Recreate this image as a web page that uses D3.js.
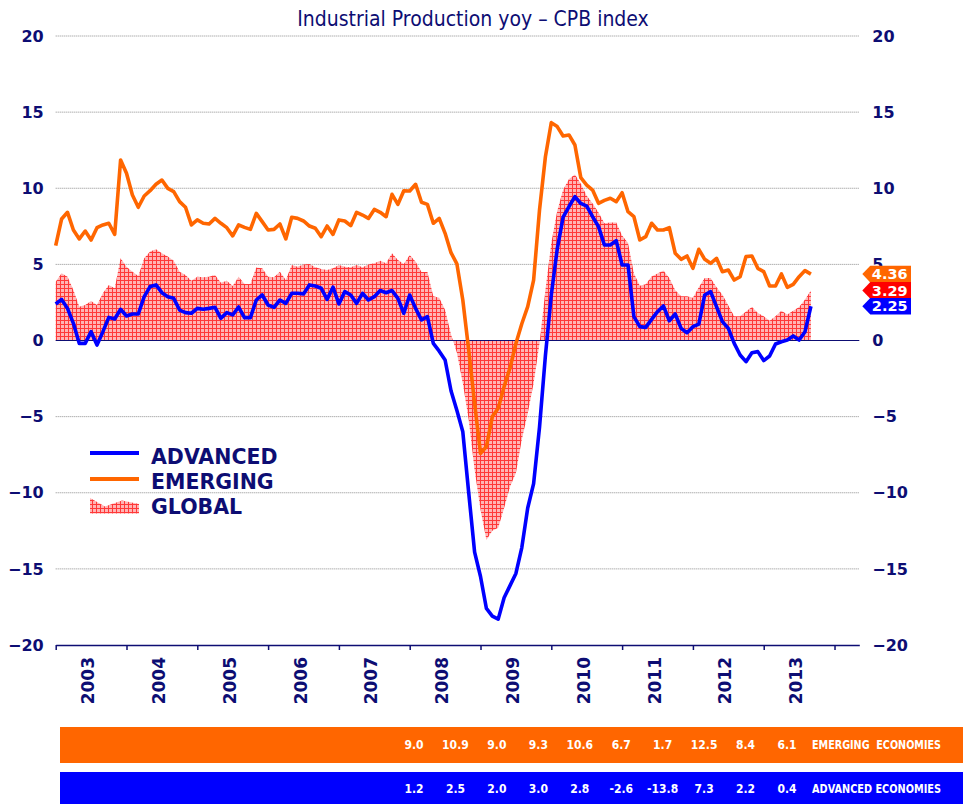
<!DOCTYPE html>
<html><head><meta charset="utf-8">
<script src="https://cdn.jsdelivr.net/npm/d3@7"></script>
<style>body{margin:0;background:#fff;} svg{display:block;}</style>
</head><body>
<svg id="c" width="963" height="804"></svg>
<script>
// ---------- DATA (monthly, Jan 2003 .. Sep 2013) ----------
const years = ["2003","2004","2005","2006","2007","2008","2009","2010","2011","2012","2013"];
const yTicks = [-20,-15,-10,-5,0,5,10,15,20];
const advanced = [
 2.4,2.7,2.11,1.13,-0.19,-0.19,0.58,-0.3,0.58,1.52,
 1.41,2.05,1.61,1.74,1.74,2.88,3.54,3.65,3.14,2.88,
 2.77,2.0,1.83,1.79,2.11,2.05,2.11,2.18,1.46,1.83,
 1.68,2.2,1.5,1.5,2.66,2.99,2.33,2.18,2.66,2.44,
 3.1,3.1,3.06,3.65,3.58,3.43,2.7,3.5,2.4,3.21,
 2.99,2.44,3.1,2.66,2.88,3.28,3.14,3.28,2.77,1.79,
 2.99,2.11,1.35,1.57,-0.19,-0.7,-1.28,-3.3,-4.6,-6.0,
 -10.0,-13.9,-15.5,-17.6,-18.1,-18.3,-16.9,-16.1,-15.3,-13.6,
 -11.0,-9.4,-5.7,-1.0,3.0,6.0,8.1,8.8,9.45,9.0,
 8.83,8.13,7.48,6.27,6.27,6.56,4.96,4.96,1.57,0.91,
 0.86,1.39,1.89,2.27,1.3,1.74,0.8,0.51,0.91,1.08,
 2.99,3.21,2.22,1.24,0.8,-0.19,-0.95,-1.39,-0.8,-0.73,
 -1.32,-1.02,-0.23,-0.08,0.03,0.3,0.03,0.58,2.25];
const emerging = [
 6.23,7.98,8.42,7.26,6.67,7.19,6.6,7.41,7.59,7.7,
 6.97,11.86,10.98,9.56,8.75,9.49,9.84,10.26,10.54,9.99,
 9.78,9.12,8.75,7.59,7.92,7.7,7.65,8.02,7.7,7.41,
 6.87,7.59,7.43,7.3,8.35,7.81,7.26,7.3,7.65,6.67,
 8.09,8.02,7.85,7.52,7.37,6.82,7.52,6.97,7.92,7.85,
 7.54,8.42,8.24,8.02,8.61,8.42,8.13,9.6,8.94,9.84,
 9.82,10.26,9.08,8.94,7.7,8.02,7.04,5.77,5.03,2.66,
 -0.62,-4.13,-7.41,-6.97,-5.0,-4.45,-3.03,-1.8,-0.2,1.1,
 2.22,3.97,8.57,12.07,14.31,14.05,13.43,13.5,12.84,10.7,
 10.21,9.88,9.01,9.2,9.34,9.12,9.71,8.46,8.13,6.6,
 6.82,7.7,7.26,7.26,7.41,5.73,5.33,5.55,4.74,5.99,
 5.33,5.07,5.4,4.52,4.63,3.97,4.19,5.51,5.55,4.74,
 4.52,3.58,3.58,4.37,3.49,3.69,4.19,4.59,4.36];
const globalIdx = [
 3.86,4.41,4.19,3.32,2.22,2.33,2.59,2.33,3.1,3.65,
 3.43,5.4,4.85,4.52,4.24,5.4,5.84,5.99,5.73,5.51,
 5.24,4.52,4.3,3.93,4.19,4.15,4.19,4.3,3.8,3.93,
 3.58,4.19,3.71,3.71,4.8,4.74,4.19,4.15,4.52,3.97,
 4.96,4.85,5.0,5.02,4.81,4.7,4.63,4.74,4.96,4.85,
 4.81,4.96,4.81,5.0,5.07,5.24,5.07,5.73,5.29,5.02,
 5.62,5.18,4.5,4.5,2.9,2.8,2.0,0.4,-0.8,-2.8,
 -5.2,-8.5,-11.1,-13.1,-12.5,-12.3,-11.0,-9.6,-8.7,-6.5,
 -4.8,-2.8,-0.2,3.3,6.4,8.5,9.9,10.6,10.9,10.3,
 9.5,9.0,8.4,7.7,7.75,7.75,6.9,6.4,4.4,3.6,
 3.7,4.2,4.4,4.6,4.1,3.3,2.9,2.9,2.8,3.5,
 4.1,4.1,3.5,3.0,2.3,1.6,1.6,1.9,2.2,1.8,
 1.6,1.3,1.6,1.95,1.7,1.95,2.2,2.7,3.29];
const emergingTable = [9.0,10.9,9.0,9.3,10.6,6.7,1.7,12.5,8.4,6.1];
const advancedTable = [1.2,2.5,2.0,3.0,2.8,-2.6,-13.8,7.3,2.2,0.4];
const seriesNames = ["ADVANCED","EMERGING","GLOBAL"];

// ---------- STYLE ----------
const navy = "#0d0d73", blue = "#0000ff", orange = "#ff6600", red = "#ff0000";
const svg = d3.select("#c");
const defs = svg.append("defs");
const pat = defs.append("pattern").attr("id","hatch").attr("width",4).attr("height",4)
  .attr("patternUnits","userSpaceOnUse");
pat.append("rect").attr("width",4).attr("height",4).attr("fill","#ffb4b4");
pat.append("path").attr("d","M0,0.5H4M0.5,0V4").attr("stroke","#ff3838").attr("stroke-width",1);

const x = d3.scaleLinear().domain([0, 136.2]).range([55.7, 859.3]);
const y = d3.scaleLinear().domain([-20, 20]).range([645, 36]);
const [x0, x1] = x.range();

// title
svg.append("text").attr("x",473).attr("y",26).attr("text-anchor","middle")
  .attr("font-family","'DejaVu Sans Condensed','DejaVu Sans',sans-serif").attr("font-size",21)
  .attr("fill",navy).text("Industrial Production yoy \u2013 CPB index");

// grid
svg.append("g").selectAll("line").data(yTicks.filter(v => v !== 0 && v !== -20)).join("line")
  .attr("x1",x0).attr("x2",x1).attr("y1",d=>y(d)).attr("y2",d=>y(d))
  .attr("stroke","#8c8c8c").attr("stroke-width",1).attr("stroke-dasharray","1,1");

// global area
const idx = (d,i) => x(i);
svg.append("path").datum(globalIdx)
  .attr("d", d3.area().x(idx).y0(y(0)).y1(d=>y(d)))
  .attr("fill","url(#hatch)");

// zero line
svg.append("line").attr("x1",x0).attr("x2",x1).attr("y1",y(0)).attr("y2",y(0))
  .attr("stroke",navy).attr("stroke-width",1.2);

// lines
const line = d3.line().x(idx).y(d=>y(d));
svg.append("path").datum(advanced).attr("d",line).attr("fill","none")
  .attr("stroke",blue).attr("stroke-width",3.6).attr("stroke-linejoin","round");
svg.append("path").datum(emerging).attr("d",line).attr("fill","none")
  .attr("stroke",orange).attr("stroke-width",3.6).attr("stroke-linejoin","round");

// axes
const fontB = "'DejaVu Sans',Verdana,sans-serif";
const gx = svg.append("g").attr("transform",`translate(0,${y(-20)})`)
  .call(d3.axisBottom(x).tickValues(d3.range(0, 133, 12)).tickSize(5).tickSizeOuter(0).tickFormat(""));
gx.selectAll("path,line").attr("stroke",navy).attr("stroke-width",1.5);

function styleY(g){
  g.select(".domain").remove();
  g.selectAll("text").attr("font-family",fontB).attr("font-weight","bold")
   .attr("font-size",16).attr("fill",navy);
}
svg.append("g").attr("transform",`translate(${x0},0)`)
  .call(d3.axisLeft(y).tickValues(yTicks).tickSize(0).tickPadding(12)).call(styleY);
svg.append("g").attr("transform",`translate(${x1},0)`)
  .call(d3.axisRight(y).tickValues(yTicks).tickSize(0).tickPadding(13)).call(styleY);

// year labels
svg.append("g").selectAll("text").data(years).join("text")
  .attr("transform",(d,k)=>`translate(${x(12*k+6)-3},657) rotate(-90)`)
  .attr("text-anchor","end").attr("dy","0.36em")
  .attr("font-family",fontB).attr("font-weight","bold").attr("font-size",17)
  .attr("fill",navy).text(d=>d);

// end value tags
const tags = [
  {v: emerging[emerging.length-1], c: orange},
  {v: globalIdx[globalIdx.length-1], c: red},
  {v: advanced[advanced.length-1], c: blue}
];
const tg = svg.append("g");
tags.forEach(t => {
  const yy = y(t.v), h = 8.3;
  tg.append("path").attr("d",`M${x1+3},${yy}L${x1+11},${yy-h}L911,${yy-h}L911,${yy+h}L${x1+11},${yy+h}Z`)
    .attr("fill",t.c);
  tg.append("text").attr("x",x1+12.5).attr("y",yy).attr("dy","0.36em")
    .attr("font-family",fontB).attr("font-weight","bold").attr("font-size",14.5)
    .attr("fill","#fff").text(d3.format(".2f")(t.v));
});

// legend
const lg = svg.append("g");
lg.append("line").attr("x1",90).attr("x2",139).attr("y1",453).attr("y2",453)
  .attr("stroke",blue).attr("stroke-width",4);
lg.append("line").attr("x1",90).attr("x2",139).attr("y1",479).attr("y2",479)
  .attr("stroke",orange).attr("stroke-width",4);
lg.append("path").attr("d","M90,498L105,506.5L122,500.5L139,504L139,513.5L90,513.5Z")
  .attr("fill","url(#hatch)");
lg.selectAll("text").data(seriesNames).join("text")
  .attr("x",151).attr("y",(d,i)=>463.5+i*25.3)
  .attr("font-family",fontB).attr("font-weight","bold").attr("font-size",20.5)
  .attr("fill",navy).text(d=>d);

// bottom tables
const tx = d3.scalePoint().domain(d3.range(emergingTable.length)).range([414, 787]);
const fontN = "'DejaVu Sans Condensed','Liberation Sans Narrow',sans-serif";
function band(y0, h, col, vals, label){
  const g = svg.append("g");
  g.append("rect").attr("x",60).attr("y",y0).attr("width",903).attr("height",h).attr("fill",col);
  const cy = y0 + h/2;
  g.selectAll("text.v").data(vals).join("text").attr("class","v")
    .attr("x",(d,i)=>tx(i)).attr("y",cy).attr("dy","0.36em").attr("text-anchor","middle")
    .attr("font-family",fontN).attr("font-weight","bold").attr("font-size",12)
    .attr("fill","#fff").text(d=>d3.format(".1f")(d).replace("\u2212","-"));
  g.append("text").attr("x",812).attr("y",cy).attr("dy","0.36em")
    .attr("font-family",fontN).attr("font-weight","bold").attr("font-size",12)
    .attr("textLength",129).attr("lengthAdjust","spacingAndGlyphs")
    .attr("fill","#fff").style("white-space","pre").text(label);
}
band(727, 36, orange, emergingTable, "EMERGING  ECONOMIES");
band(772, 34, blue, advancedTable, "ADVANCED ECONOMIES");
</script>
</body></html>
